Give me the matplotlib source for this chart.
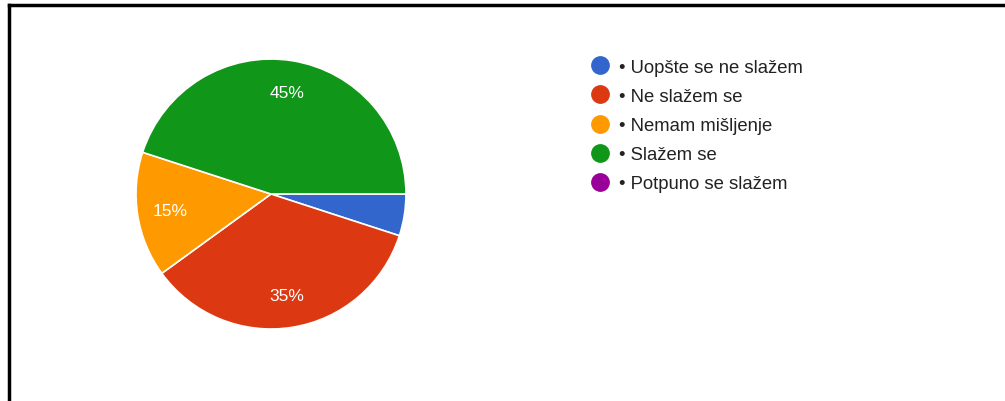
import matplotlib.pyplot as plt
from matplotlib.lines import Line2D

# survey answers (percent)
labels = ["Uopšte se ne slažem", "Ne slažem se", "Nemam mišljenje", "Slažem se", "Potpuno se slažem"]
shares = [5, 35, 15, 45, 0]
colors = ["#3366cc", "#dc3912", "#ff9900", "#109618", "#990099"]

plt.rcParams['font.family'] = ['Liberation Sans', 'DejaVu Sans']

fig = plt.figure(figsize=(10.05, 4.02), dpi=100)
ax = fig.add_axes([0.1353, 0.1791, 0.2687, 0.6716])

vals = [v for v in shares if v > 0]
cols = [c for v, c in zip(shares, colors) if v > 0]


def pct(p):
    return f"{p:.0f}%" if p >= 10 else ""


wedges, texts, autotexts = ax.pie(vals, colors=cols, startangle=0, counterclock=False,
                                  autopct=pct, pctdistance=0.76, radius=1.0,
                                  wedgeprops=dict(edgecolor="white", linewidth=1.2),
                                  textprops=dict(color="white", fontsize=12.5))
ax.set_xlim(-1, 1)
ax.set_ylim(-1, 1)
ax.set_aspect("equal")

handles = [Line2D([0], [0], marker="o", linestyle="", markersize=12.5,
                  markerfacecolor=c, markeredgecolor=c) for c in colors]
leg = fig.legend(handles, ["• " + l for l in labels], loc="upper left",
                 bbox_to_anchor=(0.58, 0.87), frameon=False, fontsize=13.3,
                 labelspacing=0.66, handletextpad=0.45, handlelength=1.1,
                 borderaxespad=0)
for t in leg.get_texts():
    t.set_color("#222222")

# border lines (left and top) of the screenshot frame
fig.add_artist(Line2D([0.0085, 0.0085], [0, 0.985], transform=fig.transFigure, color="black", linewidth=2.5))
fig.add_artist(Line2D([0.0085, 1.0], [0.984, 0.984], transform=fig.transFigure, color="black", linewidth=2.5))

fig.savefig("out.png", dpi=100)
